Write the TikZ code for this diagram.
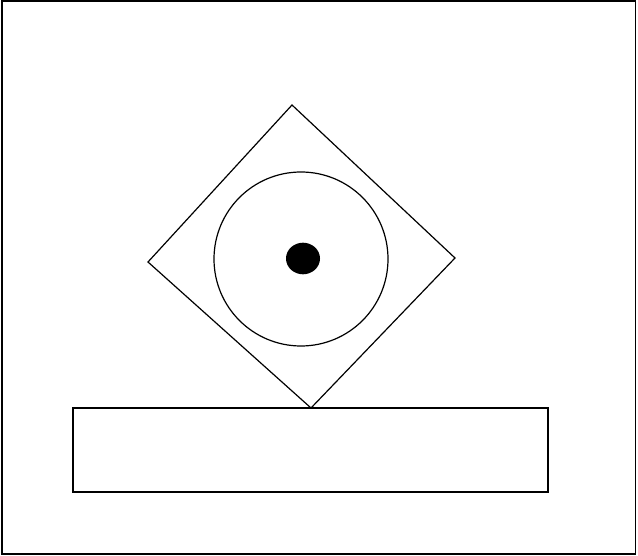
\documentclass[tikz,border=0pt]{standalone}
\usepackage{tikz}

\begin{document}
\begin{tikzpicture}[
        x=1pt, y=-1pt,
        outline/.style={draw=black, line width=1.2pt},
        frame/.style={draw=black, line width=1.8pt}
      ]
      \useasboundingbox (0,0) rectangle (638,556);
      \draw[frame] (2,1) rectangle (635.5,554);
      % tilted square holding the wheel
      \draw[outline] (292,105) -- (455,258) -- (311,408) -- (148,262) -- cycle;
      \draw[outline] (301,259) circle[radius=87];
      \fill (303,258.5) ellipse[x radius=17, y radius=15.8];
      % base block
      \draw[outline] (73,408) rectangle (548,492);
    \end{tikzpicture}
\end{document}
